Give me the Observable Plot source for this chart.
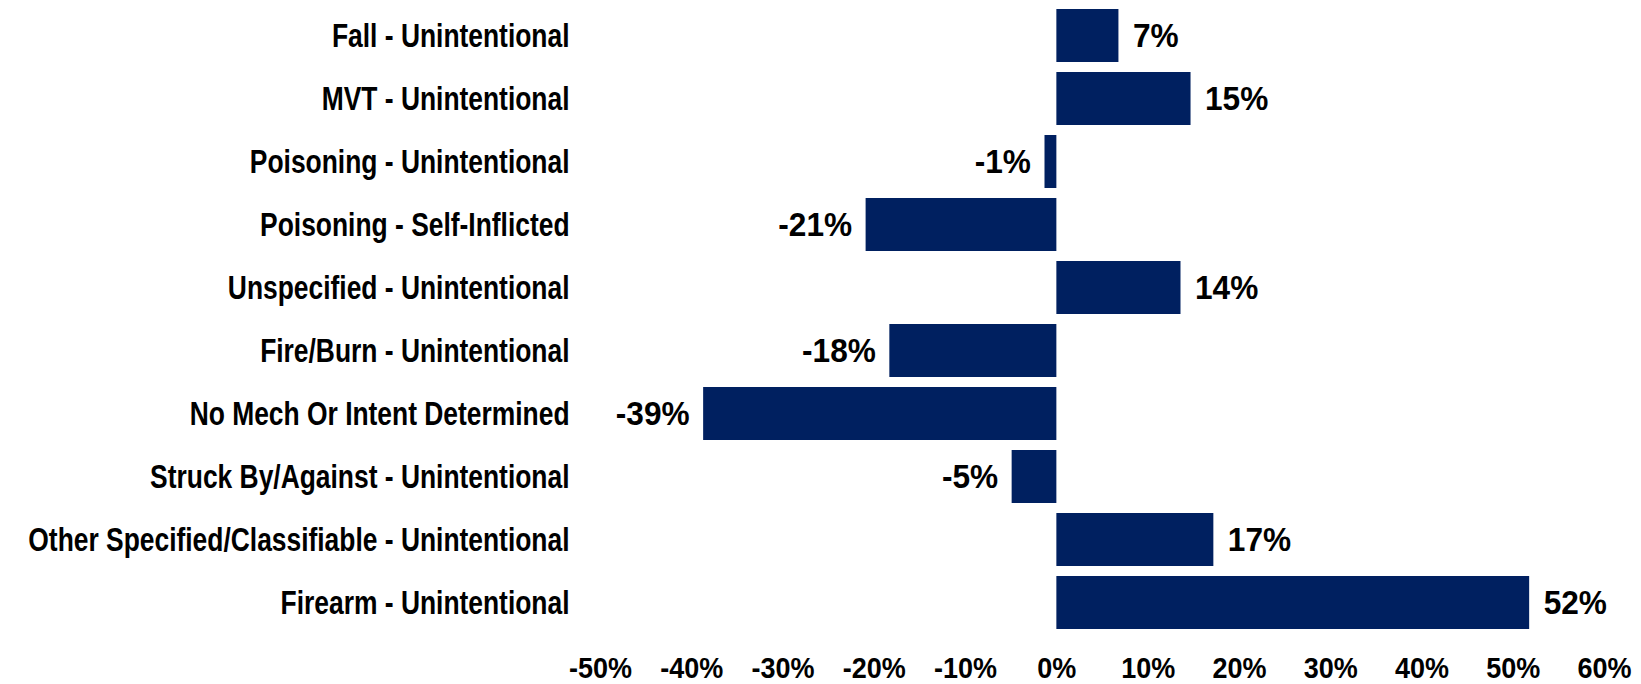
<!DOCTYPE html>
<html>
<head>
<meta charset="utf-8">
<script src="https://cdn.jsdelivr.net/npm/d3@7"></script>
<script src="https://cdn.jsdelivr.net/npm/@observablehq/plot@0.6"></script>
<style>
  html, body { margin: 0; padding: 0; background: #fff; }
  #chart svg { display: block; }
</style>
</head>
<body>
<div id="chart"></div>
<script>
const categories = [
  "Fall - Unintentional",
  "MVT - Unintentional",
  "Poisoning - Unintentional",
  "Poisoning - Self-Inflicted",
  "Unspecified - Unintentional",
  "Fire/Burn - Unintentional",
  "No Mech Or Intent Determined",
  "Struck By/Against - Unintentional",
  "Other Specified/Classifiable - Unintentional",
  "Firearm - Unintentional"
];
const values = [6.8, 14.7, -1.3, -20.9, 13.6, -18.3, -38.7, -4.9, 17.2, 51.8];
const xTicks = [-50, -40, -30, -20, -10, 0, 10, 20, 30, 40, 50, 60];

const data = categories.map((c, i) => ({category: c, value: values[i]}));
const FONT = "'Liberation Sans', Arial, sans-serif";

const chart = Plot.plot({
  width: 1641,
  height: 684,
  marginLeft: 600,
  marginRight: 37,
  marginTop: 2,
  marginBottom: 49,
  style: {background: "#fff", color: "#000", overflow: "hidden"},
  x: {domain: [-50, 60], ticks: xTicks, tickFormat: d => `${d}%`},
  y: {domain: categories, paddingInner: 0.16, paddingOuter: 0.08},
  marks: [
    Plot.barX(data, {x: "value", y: "category", fill: "#002060"}),
    Plot.text(data.filter(d => d.value >= 0), {
      x: "value", y: "category",
      text: d => `${Math.round(d.value)}%`,
      textAnchor: "start", dx: 14,
      fontSize: 34, fontWeight: "bold", fontFamily: FONT, fill: "#000",
      className: "vlab"
    }),
    Plot.text(data.filter(d => d.value < 0), {
      x: "value", y: "category",
      text: d => `${Math.round(d.value)}%`,
      textAnchor: "end", dx: -14,
      fontSize: 34, fontWeight: "bold", fontFamily: FONT, fill: "#000",
      className: "vlab"
    }),
    Plot.axisX({
      ticks: xTicks, tickFormat: d => `${d}%`, tickSize: 0, tickPadding: 21,
      fontSize: 30, fontWeight: "bold", fontFamily: FONT,
      label: null
    }),
    Plot.axisY({
      tickSize: 0, tickPadding: 31,
      fontSize: 33, fontWeight: "bold", fontFamily: FONT,
      label: null
    })
  ]
});
document.getElementById("chart").appendChild(chart);

// horizontally condense label glyphs around their own anchor points
function condense(selector, s) {
  chart.querySelectorAll(selector).forEach(t => {
    const x = parseFloat(t.getAttribute("x")) || 0;
    const tr = t.getAttribute("transform") || "";
    t.setAttribute("transform", `${tr} translate(${x},0) scale(${s},1) translate(${-x},0)`);
  });
}
condense("g[aria-label='x-axis tick label'] text", 0.9);
condense("g[aria-label='y-axis tick label'] text", 0.80);
condense("g.vlab text", 0.93);
</script>
</body>
</html>
